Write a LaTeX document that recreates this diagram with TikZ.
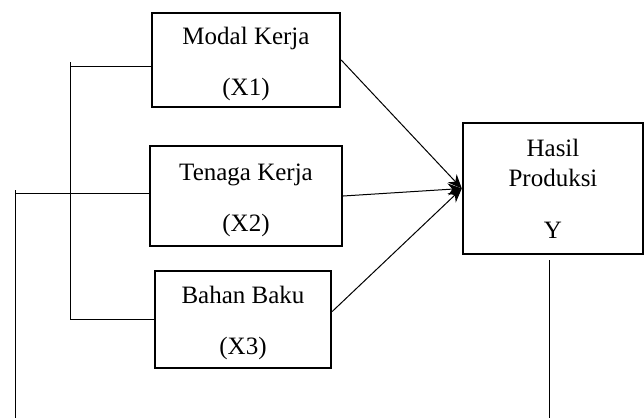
\documentclass[tikz,border=0pt]{standalone}
\usepackage{fontspec}
\setmainfont{Liberation Serif}
\usetikzlibrary{arrows.meta}
\tikzset{
    var/.style  = {draw, rectangle, line width=1.2pt, align=center, inner sep=0pt, font=\fontsize{12.5}{15}\selectfont},
    link/.style = {draw, line width=0.5pt},
    arr/.style  = {link, -{Stealth[length=7pt,width=6pt]}},
}

\begin{document}
\begin{tikzpicture}[x=0.5pt, y=-0.5pt]
  \useasboundingbox (0,0) rectangle (644,418);
  \node [name=x1, var, minimum width=94pt, minimum height=47pt] at (246,60) {\rule{0pt}{12.5pt}Modal Kerja\\[10.5pt](X1)};
  \node [name=x2, var, minimum width=96pt, minimum height=50pt] at (246,196) {\rule{0pt}{12.5pt}Tenaga Kerja\\[10.5pt](X2)};
  \node [name=x3, var, minimum width=88pt, minimum height=48.5pt] at (243,319.5) {\rule{0pt}{12.5pt}Bahan Baku\\[10.5pt](X3)};
  \node [name=y, var, minimum width=90pt, minimum height=65.5pt] at (553,188.5) {Hasil\\Produksi\\[11pt]Y};
  % bracket on the left
  \coordinate (btop) at (70,62);
  \coordinate (b1) at (70,66);
  \coordinate (b2) at (70,193);
  \draw [link] (btop) |- (x3.west);
  \draw [link] (b1) -- (b1 -| x1.west);
  \draw [link] (b2) -- (b2 -| x2.west);
  \coordinate (ltop) at (15,190);
  \coordinate (lbot) at (15,418);
  \draw [link] (ltop) -- (lbot);
  \draw [link] (ltop |- b2) -- (b2);
  % line under Y
  \coordinate (rtop) at (549,260);
  \coordinate (rbot) at (549,418);
  \draw [link] (rtop) -- (rbot);
  % arrows into Y
  \draw [arr] (x1.east) -- (y.west);
  \draw [arr] (x2.east) -- (y.west);
  \draw [arr] ([yshift=4pt]x3.east) -- (y.west);
\end{tikzpicture}
\end{document}
